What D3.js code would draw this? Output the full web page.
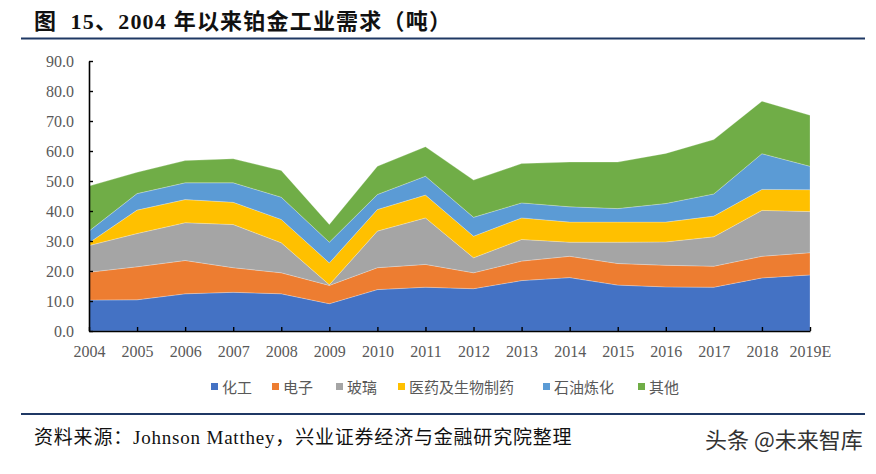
<!DOCTYPE html>
<html lang="zh">
<head>
  <meta charset="UTF-8">
  <script src="https://cdn.jsdelivr.net/npm/d3@7"></script>
  <title>2004年以来铂金工业需求</title>
  <style>
    body { margin: 0; background: #fff; }
  </style>
</head>
<body>
  <svg width="876" height="474"></svg>
  <script>
    // 数据（吨）
    var years = ["2004", "2005", "2006", "2007", "2008", "2009", "2010", "2011",
      "2012", "2013", "2014", "2015", "2016", "2017", "2018", "2019E"];
    var seriesNames = ["化工", "电子", "玻璃", "医药及生物制药", "石油炼化", "其他"];
    var chemical = [10.3, 10.4, 12.4, 12.9, 12.4, 9.1, 13.8, 14.6, 14.1, 16.8, 17.8, 15.3, 14.7, 14.6, 17.7, 18.7];
    var electrical = [9.3, 11.0, 11.1, 8.2, 7.0, 6.1, 7.3, 7.6, 5.3, 6.5, 7.1, 7.2, 7.2, 7.0, 7.2, 7.4];
    var glass = [8.9, 11.1, 12.6, 14.4, 10.0, 0.2, 12.2, 15.5, 5.0, 7.2, 4.7, 7.1, 7.8, 9.8, 15.3, 13.7];
    var medical = [0.9, 7.8, 7.7, 7.4, 7.8, 7.3, 7.2, 7.6, 7.2, 7.2, 6.7, 6.7, 6.6, 6.9, 7.0, 7.3];
    var petroleum = [3.9, 5.5, 5.6, 6.5, 7.4, 6.9, 5.0, 6.3, 6.3, 5.0, 5.1, 4.5, 6.2, 7.4, 11.9, 7.8];
    var other = [15.0, 7.1, 7.4, 8.0, 8.9, 5.9, 9.4, 9.8, 12.4, 13.1, 14.9, 15.5, 16.7, 18.1, 17.5, 17.0];
    var yTicks = [0, 10, 20, 30, 40, 50, 60, 70, 80, 90];

    var colors = ["#4472C4", "#ED7D31", "#A5A5A5", "#FFC000", "#5B9BD5", "#70AD47"];
    var allSeries = [chemical, electrical, glass, medical, petroleum, other];

    var svg = d3.select("svg");
    var plot = { left: 89, right: 810, top: 61, bottom: 331 };
    var serif = "'Liberation Serif', 'Noto Sans CJK SC', serif";

    // 标题
    svg.append("text")
      .attr("x", 34).attr("y", 29)
      .attr("font-family", serif)
      .attr("font-weight", "bold")
      .attr("font-size", 22)
      .attr("letter-spacing", 1.2)
      .attr("xml:space", "preserve")
      .attr("fill", "#111")
      .text("图  15、2004 年以来铂金工业需求（吨）");
    svg.append("line")
      .attr("x1", 21).attr("x2", 865).attr("y1", 38.5).attr("y2", 38.5)
      .attr("stroke", "#1F3864").attr("stroke-width", 2);

    var table = years.map(function (y, i) {
      var row = { year: y };
      seriesNames.forEach(function (n, j) { row[n] = allSeries[j][i]; });
      return row;
    });

    var x = d3.scalePoint().domain(years).range([plot.left, plot.right]);
    var yScale = d3.scaleLinear().domain([0, 90]).range([plot.bottom, plot.top]);

    var stack = d3.stack().keys(seriesNames);
    var layers = stack(table);

    var area = d3.area()
      .x(function (d) { return x(d.data.year); })
      .y0(function (d) { return yScale(d[0]); })
      .y1(function (d) { return yScale(d[1]); });

    svg.append("g").selectAll("path")
      .data(layers)
      .enter()
      .append("path")
      .attr("d", area)
      .attr("fill", function (d, i) { return colors[i]; })
      .attr("stroke", "#fff")
      .attr("stroke-width", 0.4)
      .attr("stroke-opacity", 0.6);

    // 坐标轴
    var yAxis = d3.axisLeft(yScale)
      .tickValues(yTicks)
      .tickSize(-4).tickSizeOuter(0)
      .tickPadding(15)
      .tickFormat(d3.format(".1f"));
    var gy = svg.append("g")
      .attr("transform", "translate(" + plot.left + ",0)")
      .call(yAxis);

    var xAxis = d3.axisBottom(x)
      .tickSize(-4).tickSizeOuter(0)
      .tickPadding(15);
    var gx = svg.append("g")
      .attr("transform", "translate(0," + plot.bottom + ")")
      .call(xAxis);

    [gx, gy].forEach(function (g) {
      g.select(".domain").attr("stroke", "#000").attr("stroke-width", 1.6);
      g.selectAll(".tick line").attr("stroke", "#000").attr("stroke-width", 1.4);
      g.selectAll(".tick text")
        .attr("font-family", serif)
        .attr("font-size", 16)
        .attr("fill", "#595959");
    });

    // 图例
    var legendX = [211, 272, 336, 398, 543, 638];
    var legend = svg.append("g").selectAll("g")
      .data(seriesNames)
      .enter()
      .append("g")
      .attr("transform", function (d, i) { return "translate(" + legendX[i] + ",387)"; });
    legend.append("rect")
      .attr("x", 0).attr("y", -4)
      .attr("width", 7).attr("height", 7)
      .attr("fill", function (d, i) { return colors[i]; });
    legend.append("text")
      .attr("x", 11).attr("y", 5.5)
      .attr("font-family", "'Noto Sans CJK SC', sans-serif")
      .attr("font-size", 15)
      .attr("fill", "#595959")
      .text(function (d) { return d; });

    // 底部
    svg.append("line")
      .attr("x1", 21).attr("x2", 865).attr("y1", 414).attr("y2", 414)
      .attr("stroke", "#1F3864").attr("stroke-width", 2);
    svg.append("text")
      .attr("x", 34).attr("y", 444)
      .attr("font-family", serif)
      .attr("font-size", 19)
      .attr("letter-spacing", 0.8)
      .attr("fill", "#111")
      .text("资料来源：Johnson Matthey，兴业证券经济与金融研究院整理");
    svg.append("text")
      .attr("x", 705).attr("y", 448)
      .attr("font-family", "'Noto Sans CJK SC', sans-serif")
      .attr("font-size", 22)
      .attr("fill", "#333")
      .text("头条 @未来智库");
  </script>
</body>
</html>
